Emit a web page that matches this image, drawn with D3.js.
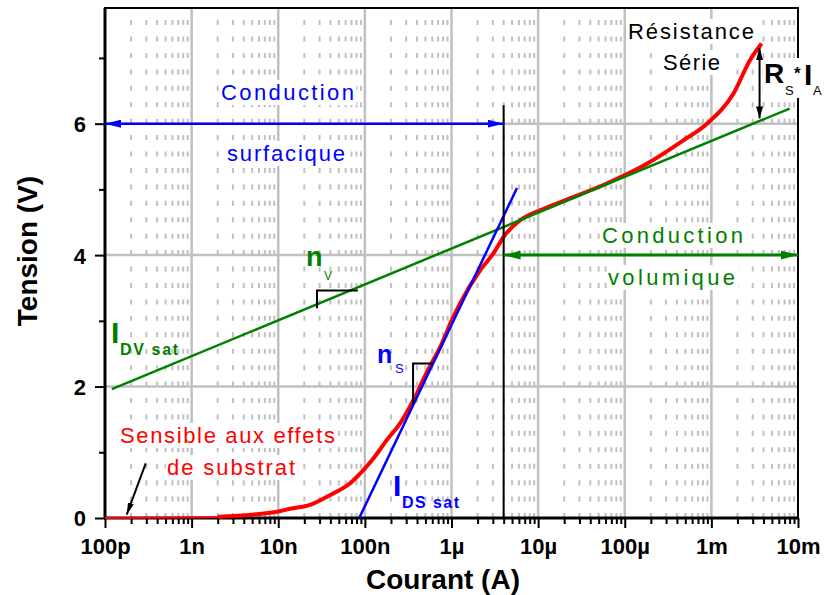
<!DOCTYPE html>
<html>
<head>
<meta charset="utf-8">
<script src="https://cdn.jsdelivr.net/npm/d3@7"></script>
<style>
	body { margin: 0; background: #fff; }
	svg text { font-family: 'Liberation Sans', Arial, sans-serif; }
</style>
</head>
<body>
<div id="chart"></div>
<script>
// axis ticks
const xTickValues = [1e-10, 1e-9, 1e-8, 1e-7, 1e-6, 1e-5, 1e-4, 1e-3, 1e-2];
const xTickLabels = ['100p', '1n', '10n', '100n', '1µ', '10µ', '100µ', '1m', '10m'];
const yTickValues = [0, 2, 4, 6];
const yMinorTickValues = [1, 3, 5, 7];

// measured I-V curve (red)
const leakCurrent = [1e-10, 2e-9];
const leakVoltage = [0, 0.01];
const measuredCurrent = [2e-9, 5e-9, 1e-8, 1.37e-8, 2.33e-8, 3.98e-8, 6.75e-8, 9.6e-8, 1.26e-7, 1.8e-7, 2.55e-7, 3.3e-7, 4e-7, 4.7e-7, 5.7e-7, 7.4e-7, 1e-6, 1.26e-6, 2.14e-6, 3.06e-6, 4e-6, 6.2e-6, 1.05e-5, 2.1e-5, 6.2e-5, 1.8e-4, 4.8e-4, 8.9e-4, 1.8e-3, 2.8e-3, 3.8e-3];
const measuredVoltage = [0.02, 0.05, 0.1, 0.14, 0.2, 0.35, 0.53, 0.73, 0.91, 1.19, 1.44, 1.69, 1.9, 2.1, 2.32, 2.6, 3.0, 3.27, 3.77, 4.03, 4.28, 4.53, 4.68, 4.84, 5.09, 5.39, 5.75, 6.0, 6.46, 6.97, 7.22];

// fits: surface diode (blue) and volume diode (green)
const surfaceFitCurrent = [8.6e-8, 5.7e-6];
const surfaceFitVoltage = [0, 5.02];
const volumeFitCurrent = [1.2e-10, 8e-3];
const volumeFitVoltage = [1.96, 6.23];

// annotation marks
const boundaryCurrent = [4e-6, 4e-6];
const boundaryVoltage = [0, 6.28];
const surfaceArrowCurrent = [1e-10, 4e-6];
const surfaceArrowVoltage = [6, 6];
const volumeArrowCurrent = [4e-6, 1e-2];
const volumeArrowVoltage = [4, 4];
const seriesArrowCurrent = [3.6e-3, 3.6e-3];
const seriesArrowVoltage = [6.08, 7.15];
const nvTriangleCurrent = [2.8e-8, 2.8e-8, 8.3e-8];
const nvTriangleVoltage = [3.19, 3.46, 3.46];
const nsTriangleCurrent = [3.6e-7, 3.6e-7, 6.1e-7];
const nsTriangleVoltage = [1.74, 2.35, 2.35];
const pointerCurrent = [2.95e-10, 1.78e-10];
const pointerVoltage = [0.83, 0.05];

const width = 825;
const height = 595;
const margin = { top: 8, right: 27, bottom: 77, left: 105 };
const BLUE = '#0000ff';
const RED = '#ff0000';
const GREEN = '#008000';
const GRID = '#c0c0c0';

const svg = d3.select('#chart')
	.append('svg')
	.attr('width', width)
	.attr('height', height);

const x = d3.scaleLog()
	.domain([1e-10, 1e-2])
	.range([margin.left, width - margin.right]);
const y = d3.scaleLinear()
	.domain([0, 7.76])
	.range([height - margin.bottom, margin.top]);

const line = d3.line().x(d => x(d[0])).y(d => y(d[1]));

const minorX = [];
xTickValues.slice(0, -1).forEach(d => {
	for (let k = 2; k <= 9; k++) minorX.push(d * k);
});

// arrow heads
function addMarker(id, color, len, wid) {
	svg.select('defs').append('marker')
		.attr('id', id)
		.attr('viewBox', `0 0 ${len} ${wid}`)
		.attr('refX', len)
		.attr('refY', wid / 2)
		.attr('markerWidth', len)
		.attr('markerHeight', wid)
		.attr('markerUnits', 'userSpaceOnUse')
		.attr('orient', 'auto-start-reverse')
		.append('path')
		.attr('d', `M0,0L${len},${wid / 2}L0,${wid}Z`)
		.attr('fill', color);
}
svg.append('defs');
addMarker('head-blue', BLUE, 16, 8);
addMarker('head-green', GREEN, 17, 9);
addMarker('head-black', '#000', 12, 7);
addMarker('head-pointer', '#000', 12, 6);

// grid: dashed minor verticals, solid major lines
function renderGrid() {
	const g = svg.append('g').attr('class', 'grid');
	const step = y(0) - y(0.25);
	g.selectAll('.minor')
		.data(minorX)
		.enter()
		.append('line')
		.attr('x1', d => x(d))
		.attr('x2', d => x(d))
		.attr('y1', y(7.5) - 5)
		.attr('y2', y(0))
		.attr('stroke', GRID)
		.attr('stroke-width', 2)
		.attr('stroke-dasharray', `5 ${step - 5}`);
	g.selectAll('.vmajor')
		.data(xTickValues.slice(1, -1))
		.enter()
		.append('line')
		.attr('x1', d => x(d))
		.attr('x2', d => x(d))
		.attr('y1', y.range()[1])
		.attr('y2', y.range()[0])
		.attr('stroke', GRID)
		.attr('stroke-width', 2.5);
	g.selectAll('.hmajor')
		.data(yTickValues.slice(1))
		.enter()
		.append('line')
		.attr('x1', x.range()[0])
		.attr('x2', x.range()[1])
		.attr('y1', d => y(d))
		.attr('y2', d => y(d))
		.attr('stroke', GRID)
		.attr('stroke-width', 2.5);
}

// axes and frame
function renderAxes() {
	const bottom = y.range()[0];
	const left = x.range()[0];
	svg.append('rect')
		.attr('x', left)
		.attr('y', y.range()[1])
		.attr('width', x.range()[1] - left)
		.attr('height', bottom - y.range()[1])
		.attr('fill', 'none')
		.attr('stroke', '#000')
		.attr('stroke-width', 2);

	const styleAxis = g => {
		g.select('.domain').remove();
		g.selectAll('line').attr('stroke', '#000').attr('stroke-width', 2);
		g.selectAll('text')
			.attr('fill', '#000')
			.style('font-size', '22px')
			.style('font-weight', 'bold');
	};
	svg.append('g')
		.attr('transform', `translate(0,${bottom})`)
		.call(d3.axisBottom(x).tickValues(minorX).tickSize(6).tickFormat(''))
		.call(styleAxis);
	svg.append('g')
		.attr('transform', `translate(0,${bottom})`)
		.call(d3.axisBottom(x).tickValues(xTickValues).tickSize(10).tickPadding(10)
			.tickFormat((d, i) => xTickLabels[i]))
		.call(styleAxis);
	svg.append('g')
		.attr('transform', `translate(${left},0)`)
		.call(d3.axisLeft(y).tickValues(yMinorTickValues).tickSize(6).tickFormat(''))
		.call(styleAxis);
	svg.append('g')
		.attr('transform', `translate(${left},0)`)
		.call(d3.axisLeft(y).tickValues(yTickValues).tickSize(10).tickPadding(9))
		.call(styleAxis)
		.selectAll('text').attr('dy', '0.36em');

	svg.append('line')
		.attr('x1', left).attr('x2', left)
		.attr('y1', y.range()[1]).attr('y2', bottom + 1)
		.attr('stroke', '#000').attr('stroke-width', 3);
	svg.append('line')
		.attr('x1', left - 1).attr('x2', x.range()[1])
		.attr('y1', bottom).attr('y2', bottom)
		.attr('stroke', '#000').attr('stroke-width', 3);

	svg.append('text')
		.attr('x', 443)
		.attr('y', 589)
		.attr('text-anchor', 'middle')
		.style('font-size', '28px')
		.style('font-weight', 'bold')
		.text('Courant (A)');
	svg.append('text')
		.attr('transform', 'translate(37,251) rotate(-90)')
		.attr('text-anchor', 'middle')
		.style('font-size', '28px')
		.style('font-weight', 'bold')
		.text('Tension (V)');
}

// a text label, stretched to the width it has in the picture, on a white box
function addLabel(str, px, py, opts) {
	const t = svg.append('text')
		.attr('x', px)
		.attr('y', py)
		.attr('fill', opts.color || '#000')
		.style('font-size', opts.size + 'px')
		.style('font-weight', opts.bold ? 'bold' : 'normal')
		.text(str);
	if (opts.fit) {
		const len = t.node().getComputedTextLength();
		t.style('letter-spacing', ((opts.fit - len) / (str.length - 1)) + 'px');
	}
	if (opts.bg !== false) {
		const b = t.node().getBBox();
		svg.insert('rect', () => t.node())
			.attr('x', b.x - 1)
			.attr('y', b.y)
			.attr('width', b.width + 1)
			.attr('height', b.height)
			.attr('fill', '#fff');
	}
	return t;
}

function renderLabels() {
	addLabel('Conduction', 221, 100, { color: BLUE, size: 22, fit: 133 });
	addLabel('surfacique', 227, 161, { color: BLUE, size: 22, fit: 118 });
	addLabel('Conduction', 602, 243, { color: GREEN, size: 22, fit: 141 });
	addLabel('volumique', 608, 285, { color: GREEN, size: 22, fit: 127 });
	addLabel('Résistance', 628, 39, { size: 22, fit: 126 });
	addLabel('Série', 663, 70, { size: 22, fit: 57 });
	addLabel('Sensible aux effets', 120, 443, { color: RED, size: 22, fit: 215 });
	addLabel('de substrat', 167, 475, { color: RED, size: 22, fit: 128 });

	// R_S * I_A
	svg.append('rect')
		.attr('x', 763).attr('y', 58)
		.attr('width', 62).attr('height', 40)
		.attr('fill', '#fff');
	addLabel('R', 764, 83, { size: 28, bold: true, bg: false });
	addLabel('S', 785, 95, { size: 13, bg: false });
	addLabel('*', 794, 79, { size: 17, bold: true, bg: false });
	addLabel('I', 804, 85, { size: 30, bold: true, bg: false });
	addLabel('A', 813, 95, { size: 13, bg: false });

	// slopes
	addLabel('n', 306, 266, { color: GREEN, size: 27, bold: true, bg: false });
	addLabel('V', 324, 280, { color: GREEN, size: 12, bg: false });
	addLabel('n', 377, 363, { color: BLUE, size: 25, bold: true, bg: false });
	addLabel('S', 395, 373, { color: BLUE, size: 13, bg: false });

	// saturation currents
	addLabel('I', 111, 343, { color: GREEN, size: 30, bold: true, bg: false });
	addLabel('DV sat', 120, 355, { color: GREEN, size: 16, bold: true, fit: 58, bg: false });
	addLabel('I', 393, 496, { color: BLUE, size: 30, bold: true, bg: false });
	addLabel('DS sat', 402, 508, { color: BLUE, size: 16, bold: true, fit: 57, bg: false });
}

function drawPath(current, voltage, color, w, extra) {
	const p = svg.append('path')
		.datum(d3.zip(current, voltage))
		.attr('d', line)
		.attr('fill', 'none')
		.attr('stroke', color)
		.attr('stroke-width', w);
	if (extra) extra(p);
	return p;
}

function renderCurves() {
	drawPath(leakCurrent, leakVoltage, RED, 2);
	svg.append('path')
		.datum(d3.zip(measuredCurrent, measuredVoltage))
		.attr('d', d3.line().x(d => x(d[0])).y(d => y(d[1])).curve(d3.curveMonotoneX))
		.attr('fill', 'none')
		.attr('stroke', RED)
		.attr('stroke-width', 4);
	drawPath(volumeFitCurrent, volumeFitVoltage, GREEN, 2.5);
	drawPath(surfaceFitCurrent, surfaceFitVoltage, BLUE, 2.5);

	drawPath(boundaryCurrent, boundaryVoltage, '#000', 2);
	drawPath(surfaceArrowCurrent, surfaceArrowVoltage, BLUE, 2.5, p => p
		.attr('marker-start', 'url(#head-blue)')
		.attr('marker-end', 'url(#head-blue)'));
	drawPath(volumeArrowCurrent, volumeArrowVoltage, GREEN, 3, p => p
		.attr('marker-start', 'url(#head-green)')
		.attr('marker-end', 'url(#head-green)'));
	drawPath(seriesArrowCurrent, seriesArrowVoltage, '#000', 2, p => p
		.attr('marker-start', 'url(#head-black)')
		.attr('marker-end', 'url(#head-black)'));
	drawPath(nvTriangleCurrent, nvTriangleVoltage, '#000', 2);
	drawPath(nsTriangleCurrent, nsTriangleVoltage, '#000', 2);
	drawPath(pointerCurrent, pointerVoltage, '#000', 2, p => p
		.attr('marker-end', 'url(#head-pointer)'));
}

renderGrid();
renderAxes();
renderLabels();
renderCurves();
</script>
</body>
</html>
